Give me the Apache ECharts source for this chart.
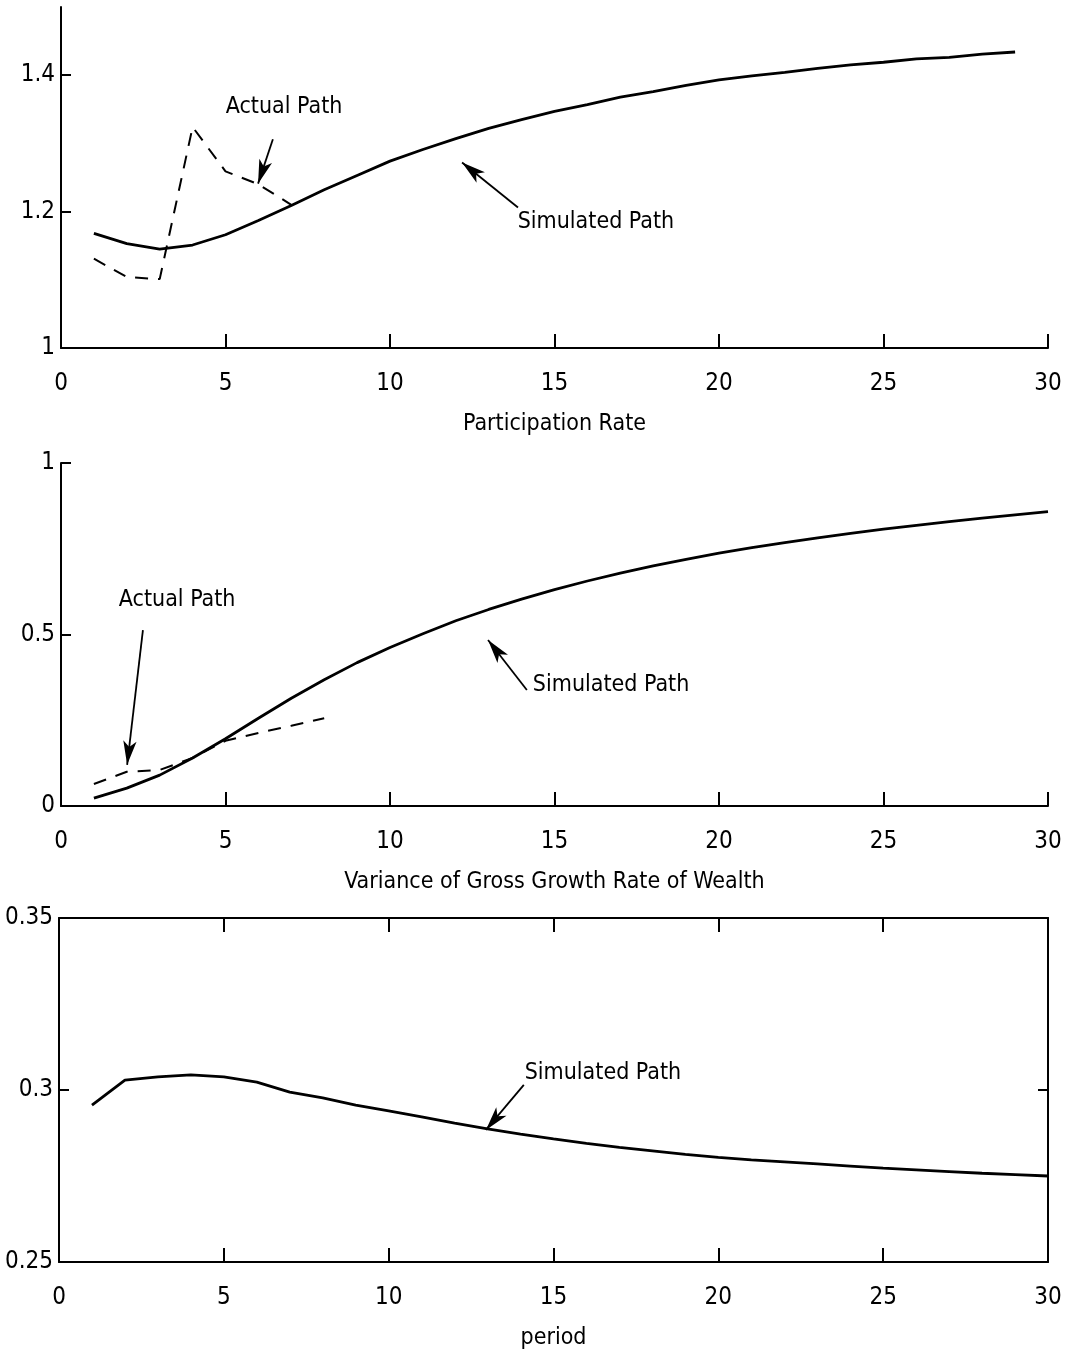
<!DOCTYPE html>
<html><head><meta charset="utf-8">
<script src="https://cdn.jsdelivr.net/npm/echarts@6/dist/echarts.min.js"></script>
<style>html,body{margin:0;padding:0;background:#fff}#c{width:1070px;height:1360px}</style>
</head><body><div id="c"></div><script>
// ---- data ----
const periods = [1,2,3,4,5,6,7,8,9,10,11,12,13,14,15,16,17,18,19,20,21,22,23,24,25,26,27,28,29,30];
// Panel 1: Participation Rate
const partSim = [1.168,1.153,1.145,1.151,1.166,1.187,1.209,1.232,1.253,1.274,1.291,1.307,1.322,1.335,1.347,1.357,1.368,1.376,1.385,1.393,1.399,1.404,1.410,1.415,1.419,1.424,1.426,1.431,1.434];
const partActual = [1.131,1.104,1.101,1.324,1.259,1.240,1.210];
// Panel 2: Variance of Gross Growth Rate of Wealth
const varSim = [0.023,0.052,0.090,0.140,0.196,0.256,0.314,0.368,0.418,0.462,0.502,0.540,0.573,0.603,0.631,0.656,0.679,0.700,0.719,0.737,0.753,0.768,0.782,0.795,0.807,0.818,0.829,0.839,0.849,0.858];
const varActual = [0.064,0.100,0.105,0.140,0.190,0.213,0.234,0.256];
// Panel 3: period
const perSim = [0.2956,0.3029,0.3038,0.3044,0.3038,0.3023,0.2994,0.2977,0.2956,0.2939,0.2922,0.2904,0.2887,0.2872,0.2858,0.2845,0.2833,0.2823,0.2813,0.2804,0.2797,0.2791,0.2785,0.2779,0.2773,0.2768,0.2763,0.2758,0.2754,0.2750];
const xTicks = [0,5,10,15,20,25,30];
const yTicks1 = [1,1.2,1.4];
const yTicks2 = [0,0.5,1];
const yTicks3 = [0.25,0.3,0.35];
const xNames = ['Participation Rate','Variance of Gross Growth Rate of Wealth','period'];
// annotations (data coordinates): [label, textAt, arrowFrom, arrowTo]
const notes1 = [['Actual Path',[6.78,1.353],[6.44,1.306],[5.99,1.241]],['Simulated Path',[16.26,1.184],[13.89,1.206],[12.19,1.272]]];
const notes2 = [['Actual Path',[3.53,0.601],[2.49,0.513],[2.01,0.120]],['Simulated Path',[16.72,0.353],[14.16,0.338],[12.98,0.484]]];
const notes3 = [['Simulated Path',[16.5,0.3049],[14.1,0.3015],[12.95,0.2884]]];

const FONT = '"Liberation Sans Narrow","DejaVu Sans Condensed","Liberation Sans",sans-serif';
const FS = 24;
const FS_TEXT = 23;
const pairs = (xs, ys) => ys.map((v,i)=>[xs[i],v]);

function xAxisDef(gi, name, top){
  return {
    type:'value', gridIndex:gi, min:0, max:30, interval:5,
    position: top ? 'top' : 'bottom',
    name: top ? '' : name, nameLocation:'middle', nameGap:65,
    nameTextStyle:{fontFamily:FONT,fontSize:FS_TEXT,color:'#000'},
    axisLine:{show:true,onZero:false,lineStyle:{color:'#000',width:2}},
    axisTick:{show:true,inside:true,length:14,lineStyle:{color:'#000',width:2},customValues:xTicks},
    axisLabel:{show:!top,margin:24,fontFamily:FONT,fontSize:FS,color:'#000',customValues:xTicks},
    splitLine:{show:false}
  };
}
function yAxisDef(gi, min, max, ticks, right){
  return {
    type:'value', gridIndex:gi, min:min, max:max,
    position: right ? 'right' : 'left',
    axisLine:{show:true,onZero:false,lineStyle:{color:'#000',width:2}},
    axisTick:{show:true,inside:true,length:10,lineStyle:{color:'#000',width:2},customValues:ticks},
    axisLabel:{show:!right,margin:6,fontFamily:FONT,fontSize:FS,color:'#000',customValues:ticks},
    splitLine:{show:false}
  };
}
function lineSeries(xi, yi, data, dashed, notes){
  const s = {
    type:'line', xAxisIndex:xi, yAxisIndex:yi, data:data, symbol:'none', smooth:false,
    lineStyle:{color:'#000',width:dashed?2:2.8,type:dashed?[13,10]:'solid'}, animation:false, z:3
  };
  if (notes){
    s.markLine = {
      silent:true, animation:false, symbol:['none','arrow'], symbolSize:[10,24],
      lineStyle:{color:'#000',width:1.8,type:'solid'}, label:{show:false},
      data: notes.map(n=>[{coord:n[2]},{coord:n[3]}])
    };
    s.markPoint = {
      silent:true, animation:false, symbol:'circle', symbolSize:0,
      label:{show:true,position:'inside',formatter:'{b}',fontFamily:FONT,fontSize:FS_TEXT,color:'#000'},
      data: notes.map(n=>({name:n[0],coord:n[1]}))
    };
  }
  return s;
}

const option = {
  backgroundColor:'#fff',
  animation:false,
  grid:[
    {left:61,right:22,top:7,height:341,outerBoundsMode:'none',containLabel:false},
    {left:61,right:22,top:463,height:343,outerBoundsMode:'none',containLabel:false},
    {left:59,right:22,top:918,height:344,outerBoundsMode:'none',containLabel:false}
  ],
  xAxis:[ xAxisDef(0,xNames[0]), xAxisDef(1,xNames[1]), xAxisDef(2,xNames[2]), xAxisDef(2,'',true) ],
  yAxis:[ yAxisDef(0,1,1.5,yTicks1), yAxisDef(1,0,1,yTicks2), yAxisDef(2,0.25,0.35,yTicks3), yAxisDef(2,0.25,0.35,yTicks3,true) ],
  series:[
    lineSeries(0,0,pairs(periods,partSim),false,notes1),
    lineSeries(0,0,pairs(periods,partActual),true),
    lineSeries(1,1,pairs(periods,varSim),false,notes2),
    lineSeries(1,1,pairs(periods,varActual),true),
    lineSeries(2,2,pairs(periods,perSim),false,notes3)
  ]
};
const chart = echarts.init(document.getElementById('c'),null,{renderer:'canvas'});
chart.setOption(option);
</script></body></html>
